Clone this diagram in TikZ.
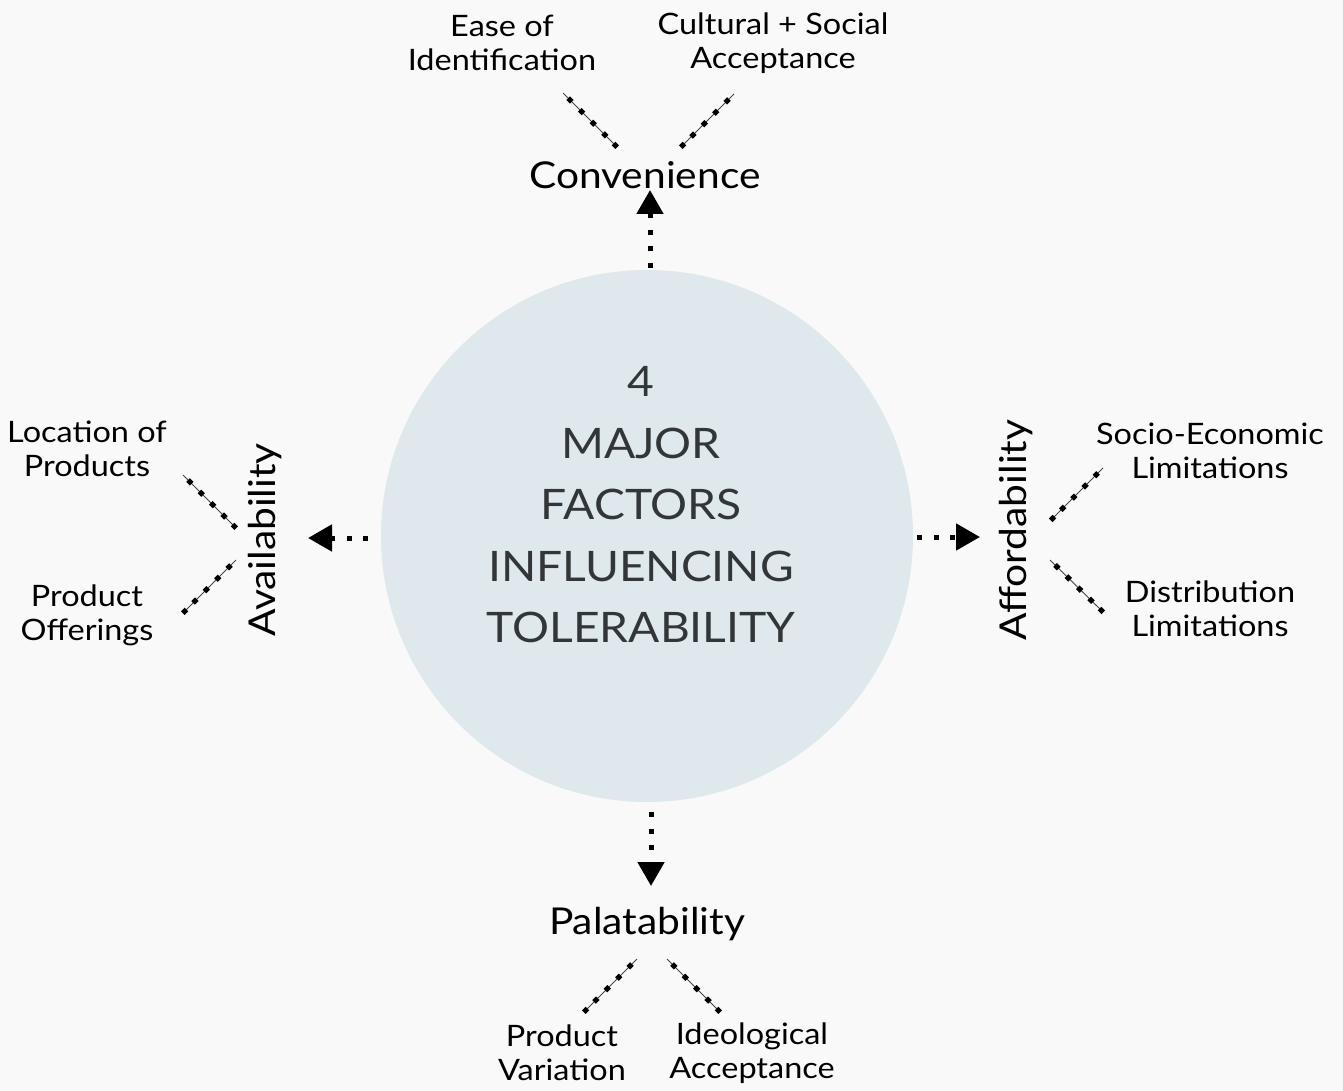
\documentclass[tikz,border=0pt]{standalone}
\usepackage{fontspec}
\setmainfont{Lato}[FakeStretch=1.1]
\usetikzlibrary{arrows.meta,decorations.markings}
\definecolor{bg}{HTML}{F9F9F9}
\definecolor{circ}{HTML}{DFE8ED}
\definecolor{ctext}{HTML}{333638}
\definecolor{thin}{HTML}{444444}
\tikzset{
  big/.style={font=\fontsize{37}{40}\selectfont, text=black, inner sep=0pt},
  small/.style={font=\fontsize{29.5}{34}\selectfont, text=black, align=center, inner sep=0pt},
  dotarr/.style={line width=5pt, dash pattern=on 5pt off 11.5pt, -{Triangle[width=26pt,length=24pt]}, shorten >=0pt},
  sq/.style={fill=black},
  ticked/.style={draw=thin, line width=0.9pt, postaction={decorate},
    decoration={markings,
      mark=at position 0.13 with {\fill[sq] (-2.6pt,-2.6pt) rectangle (2.6pt,2.6pt);},
      mark=at position 0.345 with {\fill[sq] (-2.6pt,-2.6pt) rectangle (2.6pt,2.6pt);},
      mark=at position 0.56 with {\fill[sq] (-2.6pt,-2.6pt) rectangle (2.6pt,2.6pt);},
      mark=at position 0.775 with {\fill[sq] (-2.6pt,-2.6pt) rectangle (2.6pt,2.6pt);},
      mark=at position 0.97 with {\fill[sq] (-2.6pt,-2.6pt) rectangle (2.6pt,2.6pt);}}}
}
\begin{document}
\begin{tikzpicture}[x=1pt,y=-1pt]
\fill[bg] (0,0) rectangle (1343,1091);
\useasboundingbox (0,0) rectangle (1343,1091);
% central circle
\node[circle, fill=circ, minimum size=532pt, inner sep=0pt] (c) at (647,536) {};
\node[font=\fontsize{42}{61.5}\selectfont, text=ctext, align=center, inner sep=0pt] (ct) at (641,505)
  {4\\MAJOR\\FACTORS\\INFLUENCING\\TOLERABILITY};
% main labels
\node[big] (conv) at (645,175) {Convenience};
\node[big] (pal) at (647,924) {Palatability};
\node[big, rotate=90] (avail) at (265,540) {Availability};
\node[big, rotate=90] (afford) at (1016,530) {Affordability};
% arrow end points
\coordinate (tS) at (650,268); \coordinate (tE) at (650,190);
\coordinate (lS) at (368,538); \coordinate (lE) at (308,538);
\coordinate (rS) at (917,537); \coordinate (rE) at (980,537);
\coordinate (bS) at (651,812); \coordinate (bE) at (651,886);
\draw[dotarr] (tS) -- (tE);
\draw[dotarr] (lS) -- (lE);
\draw[dotarr] (rS) -- (rE);
\draw[dotarr] (bS) -- (bE);
% sub labels
\node[small] (ease) at (502,43) {Ease of\\Identification};
\node[small] (cult) at (773,43) {Cultural + Social\\Acceptance};
\node[small] (loc) at (87,449) {Location of\\Products};
\node[small] (offer) at (87,615) {Product\\Offerings};
\node[small] (socio) at (1210,451) {Socio-Economic\\Limitations};
\node[small] (dist) at (1210,609) {Distribution\\Limitations};
\node[small] (var) at (562,1053) {Product\\Variation};
\node[small] (ideo) at (752,1053) {Ideological\\Acceptance};
% ticked connectors
\coordinate (a1) at (563,93);  \coordinate (a2) at (617,147);
\coordinate (b1) at (734,94);  \coordinate (b2) at (681,147);
\coordinate (c1) at (183,475); \coordinate (c2) at (236,528);
\coordinate (d1) at (236,560); \coordinate (d2) at (183,613);
\coordinate (e1) at (1103,468); \coordinate (e2) at (1051,520);
\coordinate (f1) at (1050,560); \coordinate (f2) at (1103,612);
\coordinate (g1) at (637,959); \coordinate (g2) at (584,1012);
\coordinate (h1) at (667,959); \coordinate (h2) at (720,1012);
\draw[ticked] (a1) -- (a2);
\draw[ticked] (b1) -- (b2);
\draw[ticked] (c1) -- (c2);
\draw[ticked] (d1) -- (d2);
\draw[ticked] (e1) -- (e2);
\draw[ticked] (f1) -- (f2);
\draw[ticked] (g1) -- (g2);
\draw[ticked] (h1) -- (h2);
\end{tikzpicture}
\end{document}
